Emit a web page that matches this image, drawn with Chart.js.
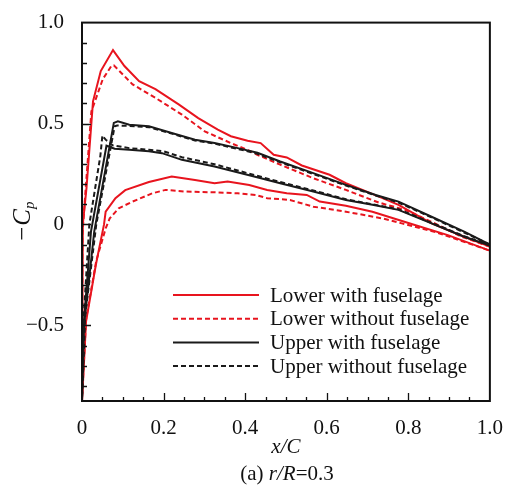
<!DOCTYPE html>
<html>
<head>
<meta charset="utf-8">
<script src="https://cdn.jsdelivr.net/npm/chart.js@4.4.1/dist/chart.umd.min.js"></script>
<style>
    body { margin: 0; background: #fff; }
    #wrap { width: 510px; height: 493px; position: relative; }
</style>
</head>
<body>
<div id="wrap"><canvas id="cpChart"></canvas></div>
<script>
// Pressure coefficient (-Cp) along the chord, r/R = 0.3.
// Each curve is a closed loop: trailing edge -> leading edge on one surface, back to the trailing edge on the other.
const lowerWithX = [1.0, 0.937, 0.857, 0.776, 0.728, 0.647, 0.607, 0.539, 0.502, 0.47, 0.438, 0.406, 0.365, 0.333, 0.285, 0.237, 0.18, 0.14, 0.104, 0.076, 0.046, 0.027, 0.011, 0.002, 0.0, 0.01, 0.034, 0.054, 0.058, 0.082, 0.106, 0.164, 0.22, 0.277, 0.325, 0.357, 0.41, 0.454, 0.502, 0.551, 0.583, 0.647, 0.712, 0.816, 0.897, 1.0];
const lowerWithY = [-0.11, -0.061, 0.005, 0.097, 0.138, 0.204, 0.246, 0.292, 0.332, 0.345, 0.403, 0.415, 0.437, 0.47, 0.527, 0.595, 0.67, 0.71, 0.785, 0.864, 0.76, 0.61, 0.18, 0.0, -0.88, -0.48, -0.2, 0.0, 0.063, 0.13, 0.17, 0.21, 0.237, 0.22, 0.204, 0.212, 0.195, 0.171, 0.154, 0.146, 0.113, 0.092, 0.063, -0.003, -0.053, -0.13];

const lowerWithoutX = [1.0, 0.93, 0.857, 0.792, 0.728, 0.647, 0.567, 0.486, 0.43, 0.414, 0.365, 0.301, 0.245, 0.18, 0.124, 0.078, 0.072, 0.051, 0.023, 0.008, 0.001, 0.0, 0.01, 0.035, 0.058, 0.068, 0.09, 0.124, 0.172, 0.205, 0.253, 0.325, 0.382, 0.426, 0.454, 0.51, 0.567, 0.647, 0.736, 0.784, 0.87, 1.0];
const lowerWithoutY = [-0.11, -0.06, 0.013, 0.072, 0.108, 0.171, 0.229, 0.296, 0.345, 0.362, 0.403, 0.461, 0.544, 0.627, 0.694, 0.788, 0.785, 0.72, 0.56, 0.15, -0.05, -0.87, -0.47, -0.18, -0.02, 0.03, 0.08, 0.113, 0.154, 0.171, 0.163, 0.159, 0.154, 0.146, 0.13, 0.121, 0.088, 0.063, 0.03, 0.005, -0.04, -0.13];

const upperWithX = [1.0, 0.937, 0.857, 0.776, 0.72, 0.647, 0.567, 0.486, 0.43, 0.382, 0.325, 0.277, 0.22, 0.164, 0.116, 0.088, 0.078, 0.03, 0.005, 0.0, 0.004, 0.022, 0.06, 0.08, 0.116, 0.164, 0.196, 0.245, 0.325, 0.422, 0.486, 0.567, 0.647, 0.712, 0.776, 0.857, 0.937, 1.0];
const upperWithY = [-0.1, -0.036, 0.038, 0.113, 0.146, 0.196, 0.254, 0.312, 0.355, 0.378, 0.403, 0.42, 0.453, 0.486, 0.494, 0.511, 0.503, -0.036, -0.5, -0.88, -0.5, -0.036, 0.39, 0.375, 0.37, 0.362, 0.353, 0.32, 0.287, 0.237, 0.204, 0.163, 0.121, 0.097, 0.072, 0.005, -0.061, -0.105];

const upperWithoutX = [1.0, 0.937, 0.857, 0.776, 0.72, 0.647, 0.567, 0.486, 0.43, 0.382, 0.325, 0.277, 0.22, 0.164, 0.116, 0.086, 0.08, 0.035, 0.008, 0.0, 0.003, 0.018, 0.045, 0.05, 0.058, 0.075, 0.116, 0.164, 0.2, 0.245, 0.325, 0.422, 0.486, 0.567, 0.647, 0.712, 0.776, 0.857, 0.937, 1.0];
const upperWithoutY = [-0.1, -0.04, 0.035, 0.108, 0.143, 0.193, 0.25, 0.308, 0.35, 0.374, 0.4, 0.416, 0.45, 0.482, 0.488, 0.49, 0.486, 0.0, -0.45, -0.88, -0.5, 0.0, 0.34, 0.44, 0.42, 0.392, 0.378, 0.37, 0.362, 0.333, 0.298, 0.245, 0.21, 0.168, 0.125, 0.1, 0.075, 0.008, -0.058, -0.105];

const seriesLabels = ['Lower with fuselage', 'Lower without fuselage', 'Upper with fuselage', 'Upper without fuselage'];
const xTicks = [0, 0.2, 0.4, 0.6, 0.8, 1.0];
const yTicks = [-0.5, 0, 0.5, 1.0];

const RED = '#e8141e';
const BLACK = '#1a1a1a';
const SERIF = '"Liberation Serif", "DejaVu Serif", serif';

const toPoints = (xs, ys) => xs.map((x, i) => ({ x: x, y: ys[i] }));
const fmt = v => v === 0 ? '0' : (v < 0 ? '\u2212' : '') + Math.abs(v).toFixed(1);

function curve(label, xs, ys, color, dash, order) {
    return {
        label: label,
        data: toPoints(xs, ys),
        borderColor: color,
        borderWidth: 2,
        borderDash: dash,
        showLine: true,
        pointRadius: 0,
        tension: 0,
        fill: false,
        order: order
    };
}

// frame, inward ticks, legend and the hand-set titles
const decor = {
    id: 'decor',
    afterDraw(chart) {
        const ctx = chart.ctx;
        const ca = chart.chartArea;
        const xs = chart.scales.x, ys = chart.scales.y;
        ctx.save();
        ctx.strokeStyle = '#111';
        ctx.lineWidth = 2;
        ctx.strokeRect(ca.left, ca.top, ca.right - ca.left, ca.bottom - ca.top);

        ctx.lineWidth = 1.3;
        ctx.beginPath();
        for (let i = 1; i < 20; i++) {
            const v = i * 0.05;
            const len = i % 4 === 0 ? 8 : 4;
            const px = Math.round(xs.getPixelForValue(v)) + 0.5;
            ctx.moveTo(px, ca.bottom);
            ctx.lineTo(px, ca.bottom - len);
        }
        for (let i = -8; i < 10; i++) {
            const v = i * 0.1;
            const len = i % 5 === 0 ? 9 : 5;
            const py = Math.round(ys.getPixelForValue(v)) + 0.5;
            ctx.moveTo(ca.left, py);
            ctx.lineTo(ca.left + len, py);
        }
        ctx.stroke();

        // legend
        const sets = chart.data.datasets;
        ctx.font = '21px ' + SERIF;
        ctx.textBaseline = 'middle';
        ctx.textAlign = 'left';
        sets.forEach((ds, i) => {
            const y = 295 + i * 23.7;
            ctx.strokeStyle = ds.borderColor;
            ctx.lineWidth = 2;
            ctx.setLineDash(ds.borderDash || []);
            ctx.beginPath();
            ctx.moveTo(173, y);
            ctx.lineTo(259, y);
            ctx.stroke();
            ctx.setLineDash([]);
            ctx.fillStyle = '#111';
            ctx.fillText(ds.label, 270, y + 1);
        });

        // x title
        ctx.fillStyle = '#111';
        ctx.textAlign = 'center';
        ctx.font = 'italic 21px ' + SERIF;
        ctx.fillText('x/C', (ca.left + ca.right) / 2, 447);

        // caption
        ctx.textBaseline = 'alphabetic';
        ctx.textAlign = 'left';
        const parts = [['(a) ', ''], ['r/R', 'italic '], ['=0.3', '']];
        let total = 0;
        parts.forEach(p => { ctx.font = p[1] + '21px ' + SERIF; total += ctx.measureText(p[0]).width; });
        let cx = 287 - total / 2;
        parts.forEach(p => {
            ctx.font = p[1] + '21px ' + SERIF;
            ctx.fillText(p[0], cx, 480);
            cx += ctx.measureText(p[0]).width;
        });

        // y title: -C with subscript p
        ctx.translate(30, 222);
        ctx.rotate(-Math.PI / 2);
        ctx.font = 'italic 25px ' + SERIF;
        const main = '\u2212C';
        const mw = ctx.measureText(main).width;
        ctx.font = 'italic 15px ' + SERIF;
        const sw = ctx.measureText('p').width;
        let tx = -(mw + sw) / 2;
        ctx.font = 'italic 25px ' + SERIF;
        ctx.fillText(main, tx, 0);
        ctx.font = 'italic 15px ' + SERIF;
        ctx.fillText('p', tx + mw, 4);
        ctx.restore();
    }
};

new Chart(document.getElementById('cpChart'), {
    type: 'scatter',
    data: {
        datasets: [
            curve(seriesLabels[0], lowerWithX, lowerWithY, RED, [], 2),
            curve(seriesLabels[1], lowerWithoutX, lowerWithoutY, RED, [5, 3], 2),
            curve(seriesLabels[2], upperWithX, upperWithY, BLACK, [], 1),
            curve(seriesLabels[3], upperWithoutX, upperWithoutY, BLACK, [5, 3], 1)
        ]
    },
    options: {
        responsive: true,
        maintainAspectRatio: false,
        animation: false,
        layout: { padding: { top: 22, right: 14, left: 0, bottom: 0 } },
        plugins: {
            legend: { display: false },
            tooltip: { enabled: false }
        },
        scales: {
            x: {
                type: 'linear',
                min: 0,
                max: 1,
                afterBuildTicks: s => { s.ticks = xTicks.map(v => ({ value: v })); },
                afterFit: s => { s.height = 92; },
                grid: { display: false },
                border: { display: false },
                ticks: {
                    callback: v => fmt(v),
                    color: '#111',
                    font: { family: SERIF, size: 21 },
                    padding: 7,
                    maxRotation: 0,
                    autoSkip: false
                }
            },
            y: {
                type: 'linear',
                min: -0.875,
                max: 1.0,
                afterBuildTicks: s => { s.ticks = yTicks.map(v => ({ value: v })); },
                afterFit: s => { s.width = 82; },
                grid: { display: false },
                border: { display: false },
                ticks: {
                    callback: v => fmt(v),
                    color: '#111',
                    font: { family: SERIF, size: 21 },
                    padding: 10,
                    autoSkip: false
                }
            }
        }
    },
    plugins: [decor]
});
</script>
</body>
</html>
